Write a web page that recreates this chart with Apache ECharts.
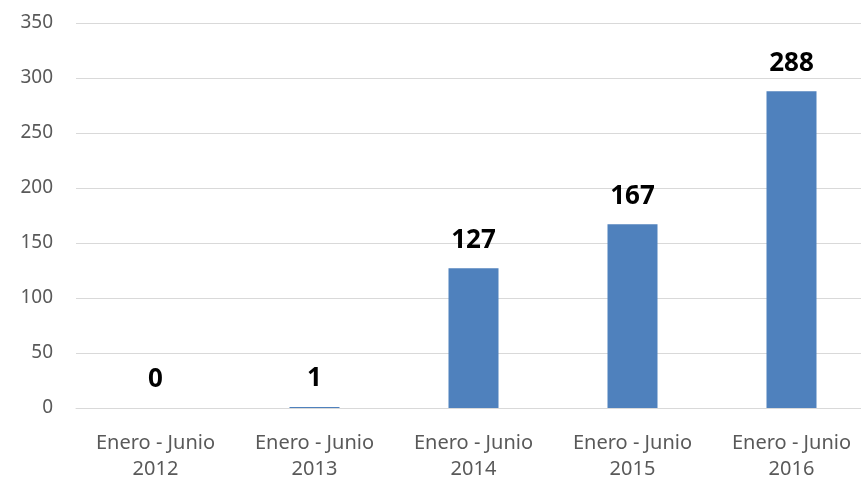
<!DOCTYPE html>
<html>
<head>
<meta charset="utf-8">
<script src="https://cdn.jsdelivr.net/npm/echarts@6/dist/echarts.min.js"></script>
<style>
  html, body { margin: 0; padding: 0; background: #fff; }
  #chart { width: 861px; height: 479px; }
</style>
</head>
<body>
<div id="chart"></div>
<script>
// periodos
const categories = ['Enero - Junio\n2012', 'Enero - Junio\n2013', 'Enero - Junio\n2014', 'Enero - Junio\n2015', 'Enero - Junio\n2016'];
// cantidades
const values = [0, 1, 127, 167, 288];
const yTicks = [0, 50, 100, 150, 200, 250, 300, 350];

const chart = echarts.init(document.getElementById('chart'));

const option = {
  animation: false,
  // el gráfico original sale recortado por la derecha
  grid: { left: 76, width: 795, top: 23, bottom: 71, outerBoundsMode: 'none' },
  xAxis: {
    type: 'category',
    data: categories,
    axisTick: { show: false },
    axisLine: { lineStyle: { color: '#d9d9d9', width: 1 } },
    axisLabel: {
      color: '#595959',
      fontFamily: 'Noto Sans',
      fontSize: 20,
      lineHeight: 26,
      margin: 22
    }
  },
  yAxis: {
    type: 'value',
    min: yTicks[0],
    max: yTicks[yTicks.length - 1],
    interval: 50,
    axisLine: { show: false },
    axisTick: { show: false },
    splitLine: { lineStyle: { color: '#d9d9d9', width: 1 } },
    axisLabel: {
      color: '#595959',
      fontFamily: 'Noto Sans',
      fontSize: 19,
      margin: 23
    }
  },
  series: [
    {
      type: 'bar',
      data: values,
      barWidth: 50,
      itemStyle: { color: '#4f81bd' },
      label: {
        show: true,
        position: 'top',
        distance: 15,
        color: '#000',
        fontFamily: 'Noto Sans',
        fontWeight: 'bold',
        fontSize: 26
      }
    }
  ]
};

chart.setOption(option);
</script>
</body>
</html>
